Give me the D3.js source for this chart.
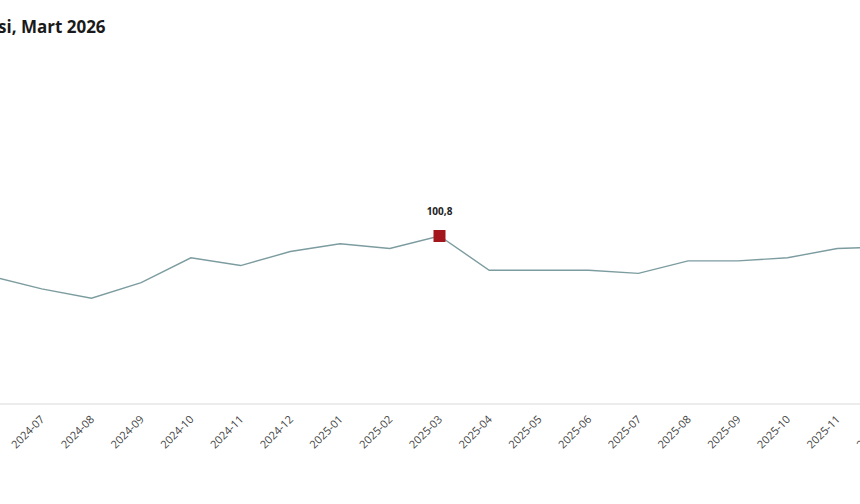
<!DOCTYPE html>
<html><head><meta charset="utf-8">
<script src="https://cdn.jsdelivr.net/npm/d3@7"></script>
<style>body{margin:0;background:#fff;font-family:"Open Sans",sans-serif}</style>
</head><body><div id="chart"></div>
<script>
const months = ["2024-06","2024-07","2024-08","2024-09","2024-10","2024-11","2024-12","2025-01","2025-02","2025-03","2025-04","2025-05","2025-06","2025-07","2025-08","2025-09","2025-10","2025-11","2025-12"];
const values = [98.2,97.4,96.8,97.8,99.4,98.9,99.8,100.3,100.0,100.8,98.6,98.6,98.6,98.4,99.2,99.2,99.4,100.0,100.1];
const highlight = "2025-03";

const W = 860, H = 504;
const svg = d3.select("#chart").append("svg").attr("width", W).attr("height", H);

const x = d3.scalePoint().domain(months).range([-8, 887]);
const y = d3.scaleLinear().domain([90, 100.8]).range([404, 236]);

svg.append("text").attr("x", -2).attr("y", 33)
  .attr("font-size", 17).attr("font-weight", "bold").attr("fill", "#1a1a1a")
  .text("si, Mart 2026");

svg.append("line").attr("x1", 0).attr("x2", W).attr("y1", 404).attr("y2", 404)
  .attr("stroke", "#ececec").attr("stroke-width", 2);

const ax = svg.append("g").attr("transform", "translate(0,404)")
  .call(d3.axisBottom(x).tickSize(0).tickPadding(0));
ax.select(".domain").remove();
ax.selectAll("text")
  .attr("font-family", "Open Sans, sans-serif").attr("font-size", 11).attr("fill", "#444")
  .attr("text-anchor", "end").attr("dy", 0)
  .attr("transform", "translate(3,16) rotate(-45)");

svg.append("path").datum(values)
  .attr("d", d3.line().x((d, i) => x(months[i])).y(d => y(d)))
  .attr("fill", "none").attr("stroke", "#7c9ca0").attr("stroke-width", 1.4);

const hi = months.indexOf(highlight);
svg.append("rect").attr("x", x(highlight) - 6).attr("y", y(values[hi]) - 6)
  .attr("width", 12).attr("height", 12).attr("fill", "#a3161c");
svg.append("text").attr("x", x(highlight)).attr("y", y(values[hi]) - 21)
  .attr("text-anchor", "middle").attr("font-size", 10).attr("font-weight", "bold")
  .attr("fill", "#222").text("100,8");
</script></body></html>
